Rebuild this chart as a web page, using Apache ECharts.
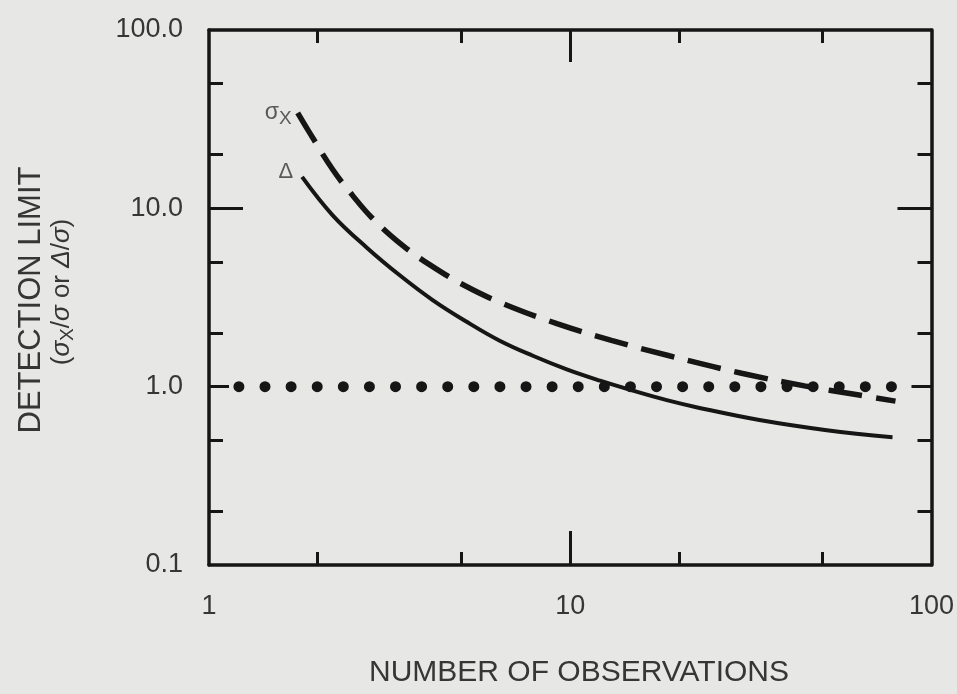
<!DOCTYPE html>
<html>
<head>
<meta charset="utf-8">
<script src="https://cdn.jsdelivr.net/npm/echarts@6/dist/echarts.min.js"></script>
<style>
  html, body { margin: 0; padding: 0; background: #e7e7e5; }
  #chart { width: 957px; height: 694px; }
</style>
</head>
<body>
<div id="chart"></div>
<script>
// values (log-log)
const sigmaXObs = [1.76, 1.90, 2.20, 2.49, 2.82, 3.42, 4.09, 5.10, 6.47, 9.23, 13.0, 18.8, 29.8, 44.5, 62.4, 79.5]
const sigmaXVal = [34.3, 26.5, 16.5, 11.9, 8.89, 6.24, 4.82, 3.69, 2.94, 2.25, 1.82, 1.49, 1.19, 1.01, 0.90, 0.83]

const deltaObs = [1.81, 2.20, 2.74, 3.38, 4.17, 5.17, 6.38, 7.88, 9.78, 12.1, 14.9, 18.5, 22.8, 33.4, 51.3, 78.0]
const deltaVal = [15.0, 9.14, 6.00, 4.20, 3.05, 2.31, 1.81, 1.49, 1.25, 1.08, 0.95, 0.84, 0.76, 0.65, 0.57, 0.52]

const refObs = [1.21, 78]
const refVal = [1.0, 1.0]

const xLabels = [1, 10, 100]
const yLabels = [0.1, 1, 10, 100]
const xMajorTicks = [10]
const xMinorTicks = [2, 5, 20, 50]
const yMajorTicks = [10]
const yMidTicks = [1]
const yMinorTicks = [0.2, 0.5, 2, 5, 20, 50]

const ink = "#161616"
const textInk = "#363636"
const font = "'Liberation Sans', Arial, sans-serif"

const zip = (xs, ys) => xs.map((x, i) => [x, ys[i]])

const makeAxis = (kind, position, ticks, tickLen, withLine, labels) => {
  const ax = {
    type: "log",
    logBase: 10,
    position: position,
    min: kind === "x" ? 1 : 0.1,
    max: 100,
    splitLine: { show: false },
    axisLine: { show: withLine, lineStyle: { color: ink, width: 3.5 } },
    axisTick: {
      show: true,
      inside: true,
      length: tickLen,
      customValues: ticks,
      lineStyle: { color: ink, width: 3 },
    },
    axisLabel: { show: false },
  }
  if (labels) {
    ax.axisLabel = {
      show: true,
      customValues: labels,
      color: textInk,
      fontFamily: font,
      fontSize: 27,
      margin: kind === "x" ? 28 : 26,
      formatter: (v) => (kind === "x" ? String(Math.round(v)) : Number(v).toFixed(1)),
    }
  }
  return ax
}

const chart = echarts.init(document.getElementById("chart"))

chart.setOption({
  backgroundColor: "#e7e7e5",
  animation: false,
  grid: { left: 209, right: 25, top: 30, bottom: 129 },
  xAxis: [
    makeAxis("x", "bottom", xMajorTicks, 34, true, xLabels),
    makeAxis("x", "bottom", xMinorTicks, 13, false, null),
    makeAxis("x", "top", xMajorTicks, 32, true, null),
    makeAxis("x", "top", xMinorTicks, 13, false, null),
  ],
  yAxis: [
    makeAxis("y", "left", yMajorTicks, 34, true, yLabels),
    makeAxis("y", "left", yMidTicks, 20, false, null),
    makeAxis("y", "left", yMinorTicks, 14, false, null),
    makeAxis("y", "right", yMajorTicks, 34, true, null),
    makeAxis("y", "right", yMidTicks, 20, false, null),
    makeAxis("y", "right", yMinorTicks, 14, false, null),
  ],
  graphic: [
    {
      type: "text",
      x: 31,
      y: 300,
      rotation: Math.PI / 2,
      style: {
        text: "DETECTION LIMIT",
        fill: textInk,
        font: "31px " + font,
        textAlign: "center",
        textVerticalAlign: "middle",
      },
    },
    {
      type: "text",
      x: 62,
      y: 292,
      rotation: Math.PI / 2,
      style: {
        text: "({g|σ}{s|X}/{g|σ} or {g|Δ}/{g|σ})",
        fill: textInk,
        font: "26px " + font,
        textAlign: "center",
        textVerticalAlign: "middle",
        rich: {
          g: { fontSize: 26, fontStyle: "italic", fontFamily: font, fill: textInk },
          s: { fontSize: 19, fontFamily: font, fill: textInk, padding: [12, 0, 0, 0] },
        },
      },
    },
    {
      type: "text",
      x: 579,
      y: 673,
      style: {
        text: "NUMBER OF OBSERVATIONS",
        fill: textInk,
        font: "30px " + font,
        textAlign: "center",
        textVerticalAlign: "middle",
      },
    },
  ],
  series: [
    {
      name: "sigmaX",
      type: "line",
      data: zip(sigmaXObs, sigmaXVal),
      smooth: 0.4,
      showSymbol: false,
      symbol: "none",
      lineStyle: { color: ink, width: 5.5, type: [34, 14] },
    },
    {
      name: "delta",
      type: "line",
      data: zip(deltaObs, deltaVal),
      smooth: 0.4,
      showSymbol: false,
      symbol: "none",
      lineStyle: { color: ink, width: 4 },
    },
    {
      name: "reference",
      type: "line",
      data: zip(refObs, refVal),
      showSymbol: false,
      symbol: "none",
      lineStyle: { color: ink, width: 11, type: [0.001, 26.1], cap: "round" },
    },
    {
      name: "labels",
      type: "scatter",
      symbolSize: 0,
      data: [
        {
          value: [sigmaXObs[0], sigmaXVal[0]],
          label: {
            show: true,
            position: "left",
            distance: 6,
            formatter: "σ{s|X}",
            color: textInk,
            fontFamily: font,
            fontSize: 23,
            rich: { s: { fontSize: 19, fontFamily: font, color: textInk, padding: [12, 0, 0, 0] } },
          },
        },
        {
          value: [deltaObs[0], deltaVal[0]],
          label: {
            show: true,
            position: "left",
            distance: 9,
            offset: [0, -5],
            formatter: "Δ",
            color: textInk,
            fontFamily: font,
            fontSize: 22,
          },
        },
      ],
    },
  ],
})
</script>
</body>
</html>
